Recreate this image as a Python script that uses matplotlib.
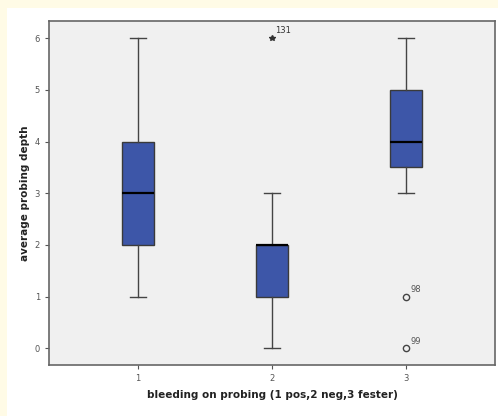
import matplotlib
matplotlib.use("Agg")
import matplotlib.pyplot as plt

categories = ["1", "2", "3"]
q1 = [2, 1, 3.5]
median = [3, 2, 4]
q3 = [4, 2, 5]
whis_low = [1, 0, 3]
whis_high = [6, 3, 6]
extreme_x = [2]
extreme_y = [6]
extreme_lbl = ["131"]
outlier_x = [3, 3]
outlier_y = [1, 0]
outlier_lbl = ["98", "99"]
yticks = [0, 1, 2, 3, 4, 5, 6]

W, H = 498, 416
fig = plt.figure(figsize=(W / 100, H / 100), dpi=100)
fig.patch.set_facecolor("#fffbe6")
bg = fig.add_axes([7 / W, 0, 1 - 7 / W, 1 - 8 / H])
bg.set_facecolor("white")
bg.set_xticks([])
bg.set_yticks([])
for s in bg.spines.values():
    s.set_visible(False)

ax = fig.add_axes([49 / W, 1 - 365 / H, (495 - 49) / W, (365 - 21) / H])
ax.set_facecolor("#f0f0f0")

stats = []
for i in range(3):
    stats.append(dict(med=median[i], q1=q1[i], q3=q3[i], whislo=whis_low[i], whishi=whis_high[i], fliers=[]))
pos = [1, 2, 3]
ax.bxp(stats, positions=pos, widths=0.246, patch_artist=True, showfliers=False,
       boxprops=dict(facecolor="#3d56a8", edgecolor="#3a3a3a", linewidth=1.0),
       medianprops=dict(color="black", linewidth=1.6),
       whiskerprops=dict(color="#444444", linewidth=1.0),
       capprops=dict(color="#444444", linewidth=1.0),
       capwidths=0.12)

ax.plot(extreme_x, extreme_y, marker="*", linestyle="none", color="#333333", markersize=4)
for x, y, t in zip(extreme_x, extreme_y, extreme_lbl):
    ax.annotate(t, (x, y), xytext=(2, 4), textcoords="offset points", fontsize=6, color="#333333")
ax.plot(outlier_x, outlier_y, marker="o", linestyle="none", markerfacecolor="none",
        markeredgecolor="#444444", markersize=4.5, markeredgewidth=1.0)
for x, y, t in zip(outlier_x, outlier_y, outlier_lbl):
    ax.annotate(t, (x, y), xytext=(3, 3), textcoords="offset points", fontsize=6, color="#555555")

ax.set_xlim(0.336, 3.664)
ax.set_ylim(-0.323, 6.335)
ax.set_xticks(pos)
ax.set_xticklabels(categories)
ax.set_yticks(yticks)
ax.tick_params(labelsize=6, colors="#555555", length=3)
for s in ax.spines.values():
    s.set_color("#666666")
    s.set_linewidth(1.2)
ax.set_xlabel("bleeding on probing (1 pos,2 neg,3 fester)", fontsize=7.5, fontweight="bold",
              color="#222222", labelpad=5)
ax.set_ylabel("average probing depth", fontsize=7.5, fontweight="bold", color="#222222", labelpad=3)

fig.savefig("out.png", dpi=100, facecolor=fig.get_facecolor())
